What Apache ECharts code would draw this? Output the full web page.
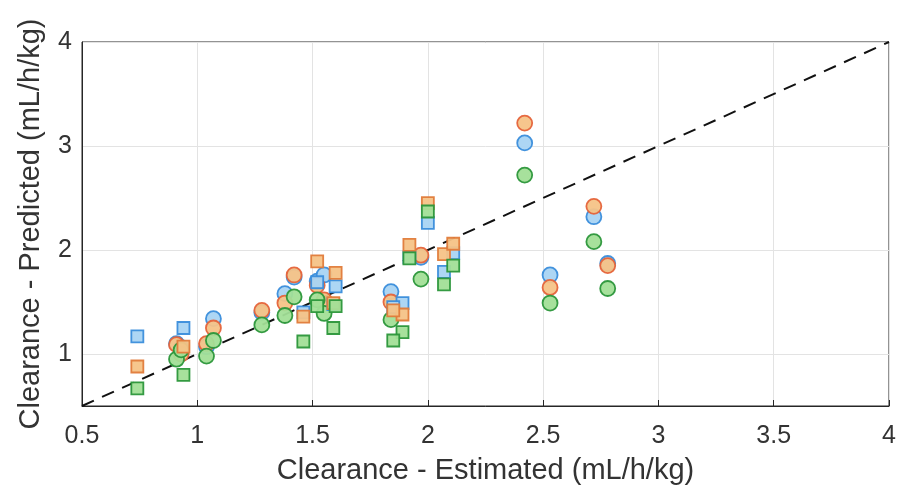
<!DOCTYPE html>
<html>
<head>
<meta charset="utf-8">
<script src="https://cdn.jsdelivr.net/npm/echarts@6/dist/echarts.min.js"></script>
<style>html,body{margin:0;padding:0;background:#fff}#c{width:902px;height:498px}</style>
</head>
<body>
<div id="c"></div>
<script>
// Circles (model A): estimated x, predicted by three methods
const circX      = [0.91, 0.93, 1.04, 1.07, 1.28, 1.38, 1.42, 1.52, 1.55, 1.84, 1.97, 2.42, 2.53, 2.72, 2.78];
const circBlue   = [1.10, 1.06, 1.07, 1.34, 1.40, 1.58, 1.74, 1.70, 1.76, 1.60, 1.93, 3.03, 1.76, 2.32, 1.87];
const circOrange = [1.09, 1.00, 1.10, 1.25, 1.42, 1.49, 1.76, 1.66, 1.52, 1.50, 1.95, 3.22, 1.64, 2.42, 1.85];
const circGreen  = [0.95, 1.04, 0.98, 1.13, 1.28, 1.37, 1.55, 1.52, 1.39, 1.33, 1.72, 2.72, 1.49, 2.08, 1.63];
// Squares (model B)
const sqX      = [0.74, 0.94, 1.46, 1.52, 1.60, 1.59, 1.89, 1.85, 1.92, 2.00, 2.07, 2.11];
const sqBlue   = [1.17, 1.25, 1.40, 1.69, 1.65, 1.48, 1.49, 1.45, 1.93, 2.26, 1.79, 1.97];
const sqOrange = [0.88, 1.07, 1.36, 1.89, 1.78, 1.49, 1.38, 1.42, 2.05, 2.45, 1.96, 2.06];
const sqGreen  = [0.67, 0.80, 1.12, 1.46, 1.46, 1.25, 1.21, 1.13, 1.92, 2.37, 1.67, 1.85];
const identity = [[0.5, 0.5], [4, 4]];
const xTicks = [0.5, 1, 1.5, 2, 2.5, 3, 3.5, 4];
const yTicks = [1, 2, 3, 4];

const zip = (xs, ys) => xs.map((x, i) => [x, ys[i]]);
const col = {
  blue:   {edge: '#3a8ddb', fill: '#a9d4f3'},
  orange: {edge: '#e5633a', fill: '#f6c387'},
  green:  {edge: '#2b963a', fill: '#a2df97'}
};
const sqEdge = {blue: '#3a8ddb', orange: '#e07b3a', green: '#2b963a'};
function sc(name, xs, ys, c, sym, size, edge) {
  return {
    type: 'scatter', name, data: zip(xs, ys), symbol: sym, symbolSize: size,
    itemStyle: {color: c.fill, borderColor: edge || c.edge, borderWidth: 1.8, opacity: 0.95},
    z: 3
  };
}
const chart = echarts.init(document.getElementById('c'), null, {renderer: 'canvas'});
const font = 'Liberation Sans, Arial, sans-serif';
chart.setOption({
  animation: false,
  backgroundColor: '#fff',
  grid: {left: 82, right: 13, top: 42, bottom: 92, show: true, borderColor: '#262626', borderWidth: 1, backgroundColor: 'transparent'},
  xAxis: {
    type: 'value', min: 0.5, max: 4, interval: 0.5,
    name: 'Clearance - Estimated (mL/h/kg)', nameLocation: 'middle', nameGap: 50,
    nameTextStyle: {fontFamily: font, fontSize: 29, color: '#333'},
    axisLine: {show: true, lineStyle: {color: '#262626'}},
    axisTick: {show: true, inside: true, length: 6, lineStyle: {color: '#262626'}},
    axisLabel: {fontFamily: font, fontSize: 25, color: '#333', margin: 18,
      formatter: v => xTicks.includes(+v.toFixed(2)) ? String(+v.toFixed(2)) : ''},
    splitLine: {show: true, lineStyle: {color: '#e3e3e3'}}
  },
  yAxis: {
    type: 'value', min: 0.5, max: 4, interval: 0.5,
    name: 'Clearance - Predicted (mL/h/kg)', nameLocation: 'middle', nameGap: 37,
    nameTextStyle: {fontFamily: font, fontSize: 29, color: '#333'},
    axisLine: {show: true, lineStyle: {color: '#262626'}},
    axisTick: {show: false},
    axisLabel: {fontFamily: font, fontSize: 25, color: '#333', margin: 10,
      formatter: v => yTicks.includes(+v.toFixed(2)) ? String(+v.toFixed(2)) : ''},
    splitLine: {show: true, lineStyle: {color: ['transparent', '#e3e3e3']}}
  },
  series: [
    {type: 'line', data: identity, symbol: 'none', silent: true, z: 2,
     lineStyle: {color: '#111', width: 2, type: [13, 9]}},
    sc('A-blue', circX, circBlue, col.blue, 'circle', 15),
    sc('A-orange', circX, circOrange, col.orange, 'circle', 15),
    sc('A-green', circX, circGreen, col.green, 'circle', 15),
    sc('B-blue', sqX, sqBlue, col.blue, 'rect', 12, sqEdge.blue),
    sc('B-orange', sqX, sqOrange, col.orange, 'rect', 12, sqEdge.orange),
    sc('B-green', sqX, sqGreen, col.green, 'rect', 12, sqEdge.green)
  ]
});
</script>
</body>
</html>
